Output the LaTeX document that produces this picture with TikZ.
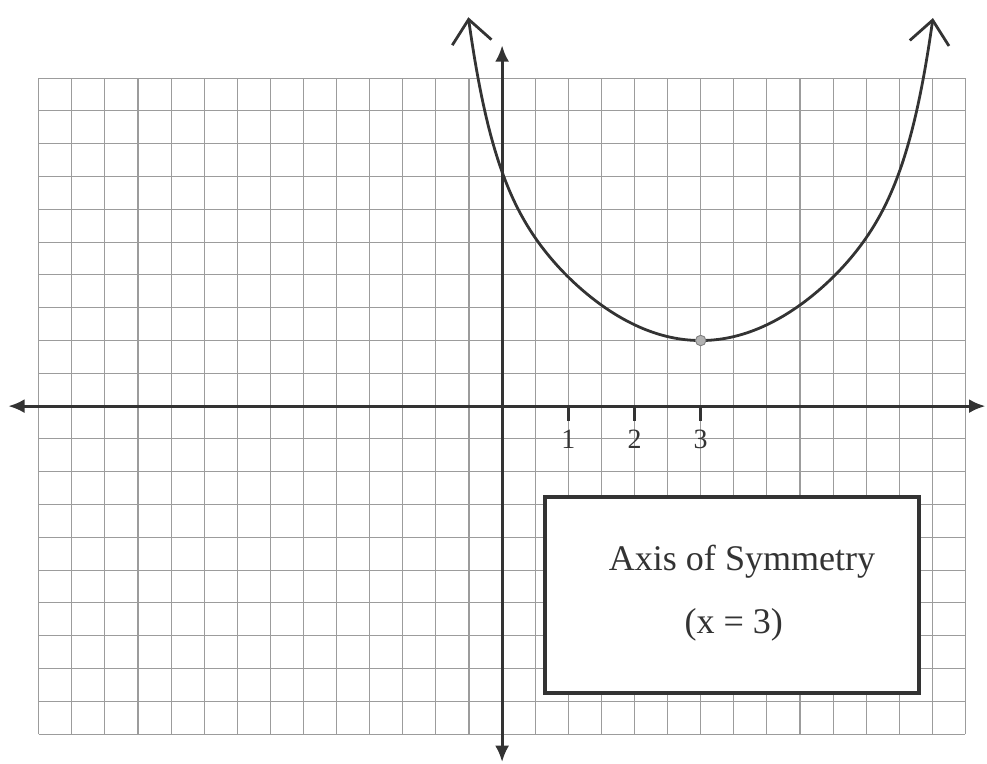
\documentclass[tikz,border=0pt]{standalone}
\usepackage{fontspec}
\setmainfont{Liberation Serif}
\usetikzlibrary{arrows.meta,positioning}

\definecolor{ink}{HTML}{333333}
\definecolor{gridgray}{HTML}{9C9C9C}

\begin{document}
\begin{tikzpicture}[
    x=1cm, y=0.991cm,
    grid/.style={draw=gridgray, line width=0.9pt},
    axis/.style={draw=ink, line width=2.4pt, {Latex[length=14pt,width=12pt]}-{Latex[length=14pt,width=12pt]}},
    curve/.style={draw=ink, line width=2.4pt, line cap=round, {Straight Barb[length=20pt,width=34pt]}-{Straight Barb[length=20pt,width=34pt]}},
    tick/.style={draw=ink, line width=2.6pt},
    ticklabel/.style={font=\fontsize{24}{24}\selectfont, text=ink, anchor=base, inner sep=0pt},
    box/.style={rectangle, draw=ink, line width=3pt, fill=white, minimum width=11.3cm, minimum height=5.93cm, inner sep=0pt},
    boxtext/.style={font=\fontsize{31}{31}\selectfont, text=ink, anchor=base, inner sep=0pt},
    vertexdot/.style={circle, draw=gray, fill=gray!60, line width=0.8pt, minimum size=9pt, inner sep=0pt}
]
\useasboundingbox (-15.17cm,-10.79cm) rectangle (14.65cm,12.27cm);

% Grid
\draw[grid, step={(1,1)}] (-14,-10) grid (14,10);

% Axes
\coordinate (xleft) at (-14.92,0);
\coordinate (xright) at (14.6,0);
\coordinate (ytop) at (0,11);
\coordinate (ybottom) at (0,-10.85);
\draw[axis] (xleft) -- (xright);
\draw[axis] (ybottom) -- (ytop);

% Ticks
\draw[tick] (2,0) -- (2,-0.45);
\draw[tick] (4,0) -- (4,-0.45);
\draw[tick] (6,0) -- (6,-0.45);

% Tick labels
\node[ticklabel] (one) at (2,-1.3) {1};
\node[ticklabel] (two) at (4,-1.3) {2};
\node[ticklabel] (three) at (6,-1.3) {3};

% Parabola
\draw[curve] plot[domain=-1.02:13.02, samples=240, smooth]
    (\x, {2 + 0.12*(\x-6)^2 + 0.08*(\x-6)^2*((((\x-6)/7.02)^2)^4)});

% Vertex
\node[vertexdot] (vertex) at (6,2) {};

% Label box
\node[box] (symbox) at (6.95,-5.76) {};
\node[boxtext] (axistext) at (7.25,-5.0) {Axis of Symmetry};
\node[boxtext] (eqtext) at (7.0,-6.92) {(x = 3)};

\end{tikzpicture}
\end{document}
